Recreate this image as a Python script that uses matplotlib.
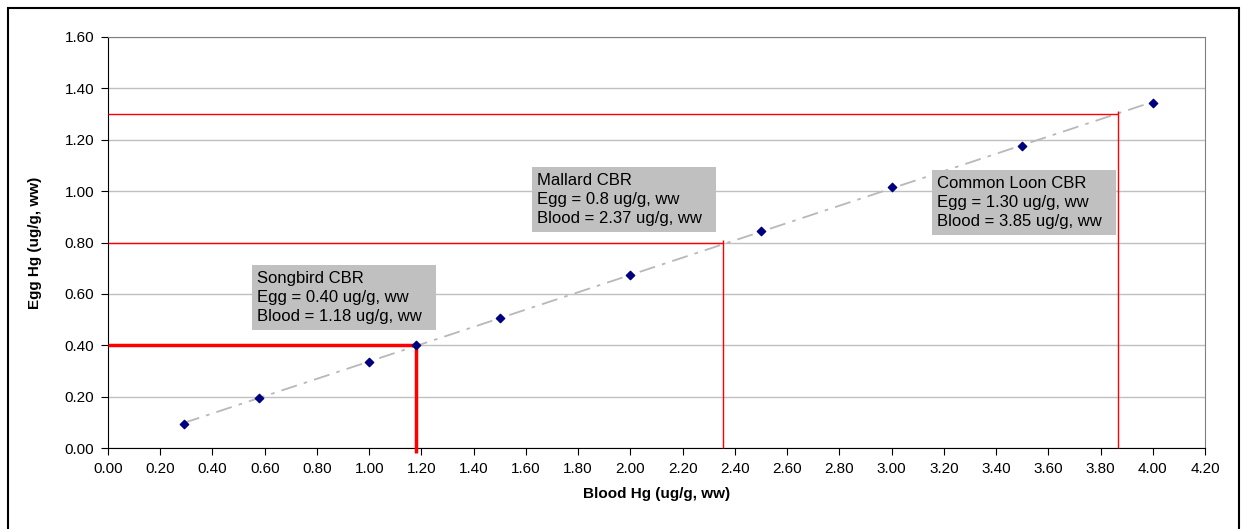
import numpy as np
import matplotlib.pyplot as plt
from matplotlib.patches import Rectangle

plt.rcParams['font.family'] = ['Liberation Sans', 'DejaVu Sans']

blood = [0.29, 0.58, 1.00, 1.18, 1.50, 2.00, 2.50, 3.00, 3.50, 4.00]
egg = [0.095, 0.195, 0.335, 0.40, 0.505, 0.675, 0.845, 1.015, 1.175, 1.345]

cbr_names = ['Songbird', 'Mallard', 'Common Loon']
cbr_egg = [0.40, 0.80, 1.30]
cbr_blood = [1.18, 2.355, 3.865]
cbr_egg_txt = ['0.40', '0.8', '1.30']
cbr_blood_txt = ['1.18', '2.37', '3.85']
cbr_lw = [2.5, 1.0, 1.0]
# label boxes: (x0, y0, x1, y1) in data units
box_xy = [(0.551, 0.459, 1.256, 0.712),
          (1.623, 0.841, 2.328, 1.094),
          (3.155, 0.829, 3.859, 1.082)]

fig = plt.figure(figsize=(12.41, 5.29), dpi=100)
# outer chart border (bottom edge runs off the image)
fig.patches.append(Rectangle((8 / 1241, -10 / 529), 1231 / 1241, 531 / 529,
                             transform=fig.transFigure, fill=False,
                             edgecolor='black', linewidth=1.5))
ax = fig.add_axes([108 / 1241, 1 - 448 / 529, 1097 / 1241, 411 / 529])

ax.set_xlim(0, 4.2)
ax.set_ylim(0, 1.6)
ax.set_xticks(np.arange(0, 4.21, 0.2))
ax.set_yticks(np.arange(0, 1.61, 0.2))
ax.set_xticklabels([f'{v:.2f}' for v in np.arange(0, 4.21, 0.2)])
ax.set_yticklabels([f'{v:.2f}' for v in np.arange(0, 1.61, 0.2)])
ax.tick_params(labelsize=11, direction='out', length=5, color='black', pad=5)
ax.yaxis.grid(True, color='#c0c0c0', linewidth=1)
ax.set_axisbelow(True)
for s in ['top', 'right']:
    ax.spines[s].set_color('#808080')
for s in ['left', 'bottom']:
    ax.spines[s].set_color('black')

# trend line
z = np.polyfit(blood, egg, 1)
xt = np.array([blood[0], blood[-1]])
ax.plot(xt, np.polyval(z, xt), color='#b8b8b8', linestyle=(0, (9, 4, 2, 4)),
        linewidth=1.3, zorder=2)

# CBR lines
for name, ey, bx, lw in zip(cbr_names, cbr_egg, cbr_blood, cbr_lw):
    ax.plot([0, bx], [ey, ey], color='red', linewidth=lw, zorder=3,
            solid_capstyle='butt')
    ax.plot([bx, bx], [ey + 0.01, -0.02 if lw > 2 else 0], color='red',
            linewidth=lw, zorder=3, clip_on=False, solid_capstyle='butt')

ax.scatter(blood, egg, marker='D', s=18, color='#000080', zorder=4)

for name, et, bt, (x0, y0, x1, y1) in zip(cbr_names, cbr_egg_txt, cbr_blood_txt, box_xy):
    ax.add_patch(Rectangle((x0, y0), x1 - x0, y1 - y0, facecolor='#c0c0c0',
                           edgecolor='none', zorder=5))
    ax.text(x0 + 0.02, (y0 + y1) / 2,
            f'{name} CBR\nEgg = {et} ug/g, ww\nBlood = {bt} ug/g, ww',
            fontsize=12, va='center', ha='left', linespacing=1.35, zorder=6)

ax.set_xlabel('Blood Hg (ug/g, ww)', fontsize=11, fontweight='bold', labelpad=8)
ax.set_ylabel('Egg Hg (ug/g, ww)', fontsize=11, fontweight='bold', labelpad=16)

fig.savefig('out.png', dpi=100)
